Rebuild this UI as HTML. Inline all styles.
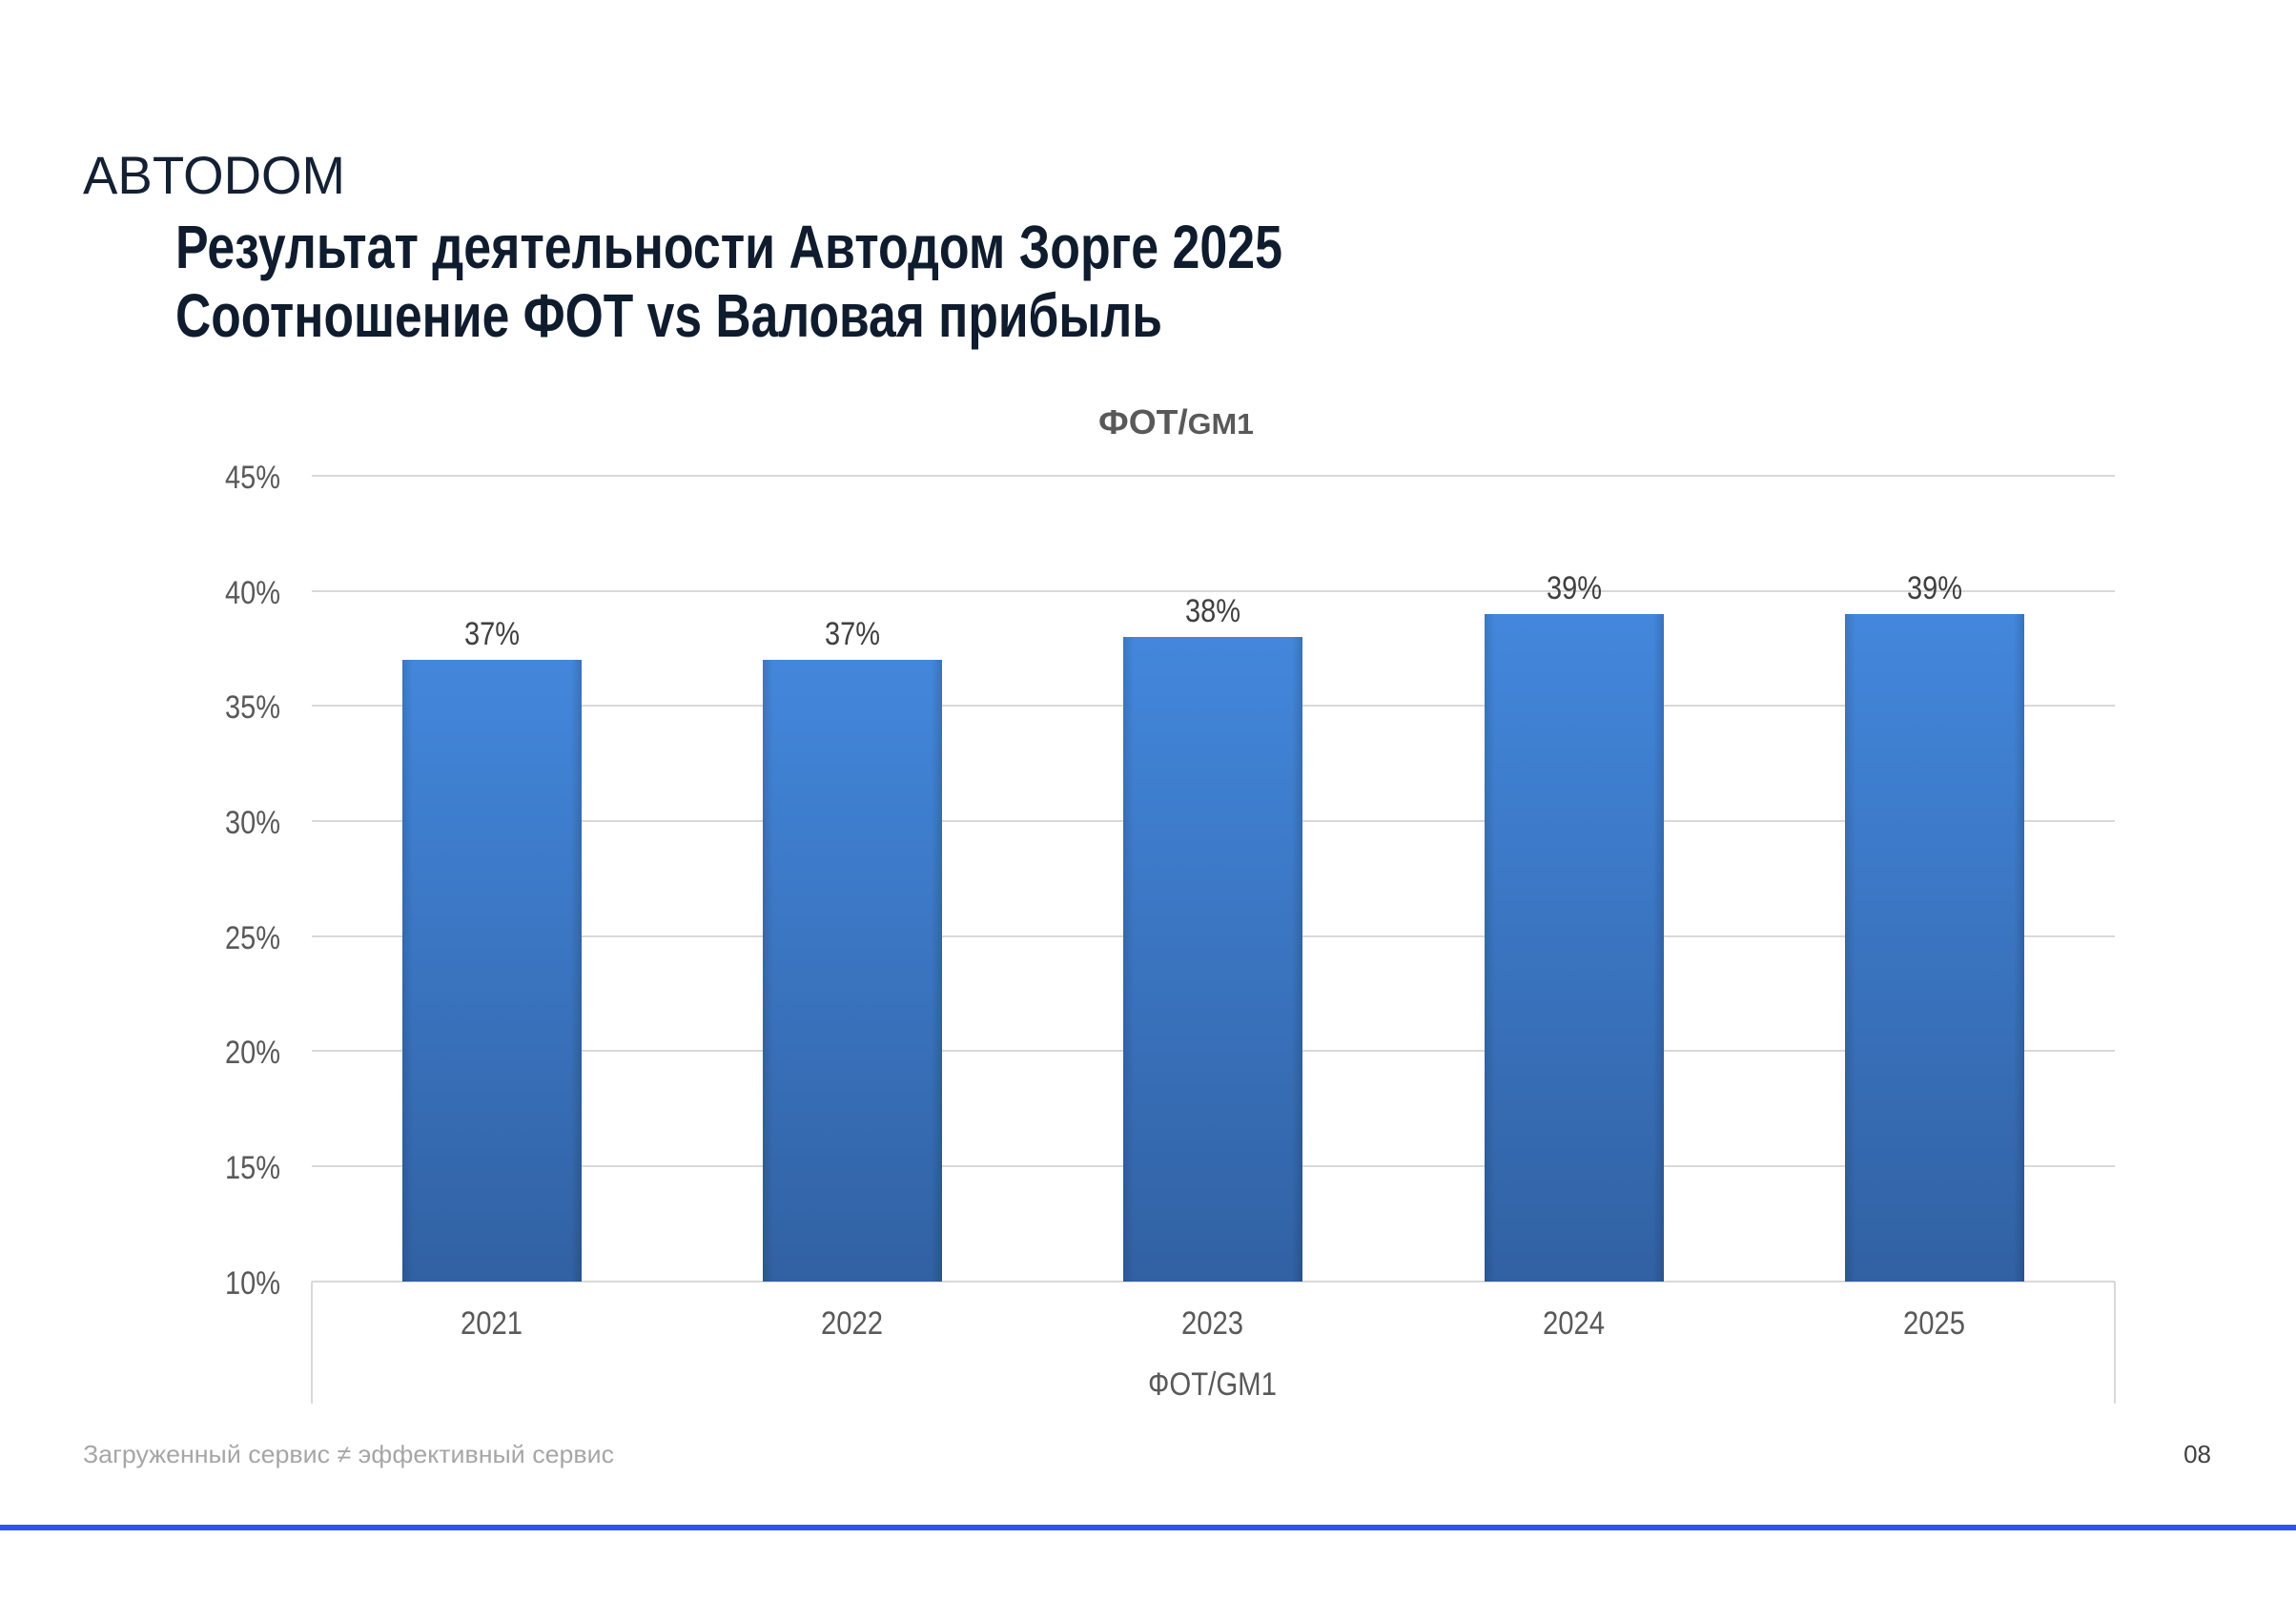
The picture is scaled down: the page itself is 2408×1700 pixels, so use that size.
<!DOCTYPE html>
<html><head><meta charset="utf-8"><style>
html,body{margin:0;padding:0;background:#fff;}
svg{display:block;}
</style></head><body>
<svg width="2408" height="1700" viewBox="0 0 2408 1700" xmlns="http://www.w3.org/2000/svg">
<defs>
<linearGradient id="g" x1="0" y1="0" x2="0" y2="1">
<stop offset="0" stop-color="#4387dc"/>
<stop offset="1" stop-color="#3161a3"/>
</linearGradient>
<linearGradient id="e" x1="0" y1="0" x2="1" y2="0">
<stop offset="0" stop-color="#000" stop-opacity="0.12"/>
<stop offset="0.06" stop-color="#000" stop-opacity="0"/>
<stop offset="0.94" stop-color="#000" stop-opacity="0"/>
<stop offset="1" stop-color="#000" stop-opacity="0.15"/>
</linearGradient>
</defs>
<rect width="2408" height="1700" fill="#fff"/>
<text x="87" y="203" font-family="Liberation Sans, sans-serif" font-size="56" fill="#142033" textLength="275" lengthAdjust="spacingAndGlyphs">ABTODOM</text>
<g font-family="Liberation Sans Narrow, Liberation Sans, sans-serif" font-weight="bold" fill="#0f1c2e" font-size="64">
<text x="184" y="281" textLength="1161" lengthAdjust="spacingAndGlyphs">Результат деятельности Автодом Зорге 2025</text>
<text x="184" y="353" textLength="1035" lengthAdjust="spacingAndGlyphs">Соотношение ФОТ vs Валовая прибыль</text>
</g>
<text x="1152" y="455" font-family="Liberation Sans Narrow, Liberation Sans, sans-serif" font-weight="bold" font-size="36" fill="#595959" textLength="163" lengthAdjust="spacingAndGlyphs">ФОТ/<tspan font-size="31">GM1</tspan></text>
<g stroke="#d9d9d9" stroke-width="2">
<line x1="327" y1="499" x2="2218" y2="499"/>
<line x1="327" y1="620" x2="2218" y2="620"/>
<line x1="327" y1="740" x2="2218" y2="740"/>
<line x1="327" y1="861" x2="2218" y2="861"/>
<line x1="327" y1="982" x2="2218" y2="982"/>
<line x1="327" y1="1102" x2="2218" y2="1102"/>
<line x1="327" y1="1223" x2="2218" y2="1223"/>
<line x1="327" y1="1344" x2="2218" y2="1344"/>
<line x1="327" y1="1344" x2="327" y2="1472"/>
<line x1="2218" y1="1344" x2="2218" y2="1472"/>
</g>
<g font-family="Liberation Sans Narrow, Liberation Sans, sans-serif" font-size="34" fill="#595959" lengthAdjust="spacingAndGlyphs">
<text x="236" y="512" textLength="58" lengthAdjust="spacingAndGlyphs">45%</text>
<text x="236" y="633" textLength="58" lengthAdjust="spacingAndGlyphs">40%</text>
<text x="236" y="753" textLength="58" lengthAdjust="spacingAndGlyphs">35%</text>
<text x="236" y="874" textLength="58" lengthAdjust="spacingAndGlyphs">30%</text>
<text x="236" y="995" textLength="58" lengthAdjust="spacingAndGlyphs">25%</text>
<text x="236" y="1115" textLength="58" lengthAdjust="spacingAndGlyphs">20%</text>
<text x="236" y="1236" textLength="58" lengthAdjust="spacingAndGlyphs">15%</text>
<text x="236" y="1357" textLength="58" lengthAdjust="spacingAndGlyphs">10%</text>
</g>
<g>
<rect x="422" y="692" width="188" height="652" fill="url(#g)"/><rect x="422" y="692" width="188" height="652" fill="url(#e)"/>
<rect x="800" y="692" width="188" height="652" fill="url(#g)"/><rect x="800" y="692" width="188" height="652" fill="url(#e)"/>
<rect x="1178" y="668" width="188" height="676" fill="url(#g)"/><rect x="1178" y="668" width="188" height="676" fill="url(#e)"/>
<rect x="1557" y="644" width="188" height="700" fill="url(#g)"/><rect x="1557" y="644" width="188" height="700" fill="url(#e)"/>
<rect x="1935" y="644" width="188" height="700" fill="url(#g)"/><rect x="1935" y="644" width="188" height="700" fill="url(#e)"/>
</g>
<g font-family="Liberation Sans Narrow, Liberation Sans, sans-serif" font-size="34" fill="#404040">
<text x="487" y="676" textLength="58" lengthAdjust="spacingAndGlyphs">37%</text>
<text x="865" y="676" textLength="58" lengthAdjust="spacingAndGlyphs">37%</text>
<text x="1243" y="652" textLength="58" lengthAdjust="spacingAndGlyphs">38%</text>
<text x="1622" y="628" textLength="58" lengthAdjust="spacingAndGlyphs">39%</text>
<text x="2000" y="628" textLength="58" lengthAdjust="spacingAndGlyphs">39%</text>
</g>
<g font-family="Liberation Sans Narrow, Liberation Sans, sans-serif" font-size="34" fill="#595959">
<text x="483" y="1399" textLength="65" lengthAdjust="spacingAndGlyphs">2021</text>
<text x="861" y="1399" textLength="65" lengthAdjust="spacingAndGlyphs">2022</text>
<text x="1239" y="1399" textLength="65" lengthAdjust="spacingAndGlyphs">2023</text>
<text x="1618" y="1399" textLength="65" lengthAdjust="spacingAndGlyphs">2024</text>
<text x="1996" y="1399" textLength="65" lengthAdjust="spacingAndGlyphs">2025</text>
<text x="1204" y="1463" textLength="135" lengthAdjust="spacingAndGlyphs">ФОТ/GM1</text>
</g>
<text x="87" y="1534" font-family="Liberation Sans, sans-serif" font-size="26" fill="#a6a6a6" textLength="557" lengthAdjust="spacingAndGlyphs">Загруженный сервис ≠ эффективный сервис</text>
<text x="2319" y="1534" text-anchor="end" font-family="Liberation Sans, sans-serif" font-size="26" fill="#404040">08</text>
<rect x="0" y="1599" width="2408" height="6" fill="#3352ee"/>
</svg>
</body></html>
